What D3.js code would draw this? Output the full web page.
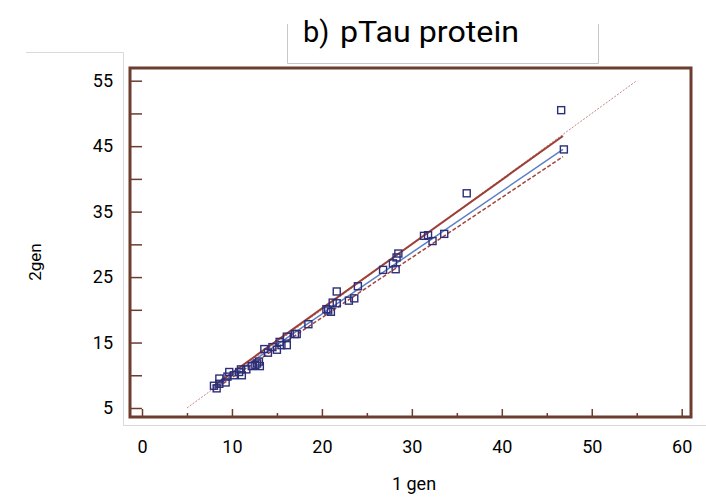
<!DOCTYPE html>
<html>
<head>
<meta charset="utf-8">
<script src="https://cdn.jsdelivr.net/npm/d3@7"></script>
<style>
  body { margin: 0; background: #fff; }
  svg { display: block; font-family: Roboto, "Liberation Sans", sans-serif; }
</style>
</head>
<body>
<svg id="chart" width="706" height="499"></svg>
<script>
"use strict";

// measured samples: 1 gen (x) vs 2gen (y)
const gen1 = [8.0, 8.3, 8.6, 8.6, 9.3, 9.5, 9.7, 10.2, 10.8, 11.1, 11.0, 11.6, 12.2, 12.6,
  12.8, 13.0, 13.1, 13.6, 14.0, 14.5, 15.0, 15.3, 15.5, 16.1, 16.1, 17.0, 17.2, 18.5,
  20.5, 20.7, 21.0, 21.2, 21.65, 21.65, 23.0, 23.6, 24.0, 26.8, 27.9, 28.2, 28.3, 28.5,
  31.35, 31.8, 32.3, 33.6, 36.1, 46.6, 46.9];
const gen2 = [8.4, 8.0, 9.5, 8.7, 8.9, 9.8, 10.5, 10.0, 10.5, 10.0, 10.9, 10.9, 11.4, 11.6,
  11.8, 12.1, 11.4, 14.0, 13.45, 14.3, 13.9, 15.1, 14.6, 15.9, 14.6, 16.3, 16.3, 17.8,
  20.1, 19.9, 19.7, 21.1, 22.8, 21.0, 21.4, 21.75, 23.6, 26.1, 27.1, 26.2, 28.0, 28.6,
  31.3, 31.4, 30.5, 31.6, 37.8, 50.5, 44.5];

// line end points
const identityLine = [[5, 5], [55, 55]];
const fitLine = [[7.9, 8.0], [46.8, 44.5]];
const upperLine = [[7.9, 8.3], [46.8, 46.55]];
const lowerLine = [[7.9, 7.7], [46.8, 43.4]];

const xTicks = [0, 5, 10, 15, 20, 25, 30, 35, 40, 45, 50, 55, 60];
const xLabels = [0, 10, 20, 30, 40, 50, 60];
const yTicks = [5, 10, 15, 20, 25, 30, 35, 40, 45, 50, 55];
const yLabels = [5, 15, 25, 35, 45, 55];

const titleTag = "b)";
const title = "pTau protein";
const xTitle = "1 gen";
const yTitle = "2gen";

const frame = {left: 130, right: 691, top: 68, bottom: 417};
const brown = "#6d3d2f";

const svg = d3.select("#chart");

const x = d3.scaleLinear().domain([0, 60]).range([142, 681.7]);
const y = d3.scaleLinear().domain([5, 55]).range([408, 80.7]);

// light grey panel edges
const grey = "#d9d9d9";
svg.append("path")
  .attr("d", `M26,52.5H123.5V425.5H706`)
  .attr("fill", "none")
  .attr("stroke", grey)
  .attr("stroke-width", 1);

// title box (open at the top)
svg.append("path")
  .attr("d", `M287.5,24V63.5H598.5V24`)
  .attr("fill", "none")
  .attr("stroke", "#c8c8c8")
  .attr("stroke-width", 1);
svg.append("text")
  .attr("x", 303)
  .attr("y", 42)
  .attr("font-size", 29)
  .attr("fill", "#000")
  .text(titleTag);
svg.append("text")
  .attr("x", 340)
  .attr("y", 42)
  .attr("font-size", 29)
  .attr("textLength", 179)
  .attr("lengthAdjust", "spacingAndGlyphs")
  .attr("fill", "#000")
  .text(title);

// axes
const yAxis = d3.axisLeft(y)
  .tickValues(yTicks)
  .tickSize(-12)
  .tickPadding(17)
  .tickFormat(d => yLabels.includes(d) ? d : "");
const gy = svg.append("g")
  .attr("transform", `translate(${frame.left},0)`)
  .call(yAxis);

const xAxis = d3.axisBottom(x)
  .tickValues(xTicks)
  .tickPadding(17)
  .tickFormat(d => xLabels.includes(d) ? d : "");
const gx = svg.append("g")
  .attr("transform", `translate(0,${frame.bottom})`)
  .call(xAxis);
gx.selectAll(".tick line")
  .attr("y2", d => xLabels.includes(d) ? -8 : -4);

for (const g of [gx, gy]) {
  g.select(".domain").remove();
  g.selectAll(".tick line").attr("stroke", brown).attr("stroke-width", 1.5);
  g.selectAll(".tick text")
    .attr("font-size", 18)
    .attr("fill", "#000")
    .attr("font-family", "Roboto, sans-serif");
}

// frame
svg.append("rect")
  .attr("x", frame.left)
  .attr("y", frame.top)
  .attr("width", frame.right - frame.left)
  .attr("height", frame.bottom - frame.top)
  .attr("fill", "none")
  .attr("stroke", brown)
  .attr("stroke-width", 3);

// axis titles
svg.append("text")
  .attr("x", 414)
  .attr("y", 490)
  .attr("text-anchor", "middle")
  .attr("font-size", 18)
  .attr("fill", "#000")
  .text(xTitle);
svg.append("text")
  .attr("transform", "translate(41,262) rotate(-90)")
  .attr("text-anchor", "middle")
  .attr("font-size", 17)
  .attr("fill", "#000")
  .text(yTitle);

// lines
const line = d3.line().x(d => x(d[0])).y(d => y(d[1]));
svg.append("path").datum(identityLine)
  .attr("d", line).attr("fill", "none")
  .attr("stroke", "#c98484").attr("stroke-width", 1)
  .attr("stroke-dasharray", "2,1.5");
svg.append("path").datum(upperLine)
  .attr("d", line).attr("fill", "none")
  .attr("stroke", "#9c3f37").attr("stroke-width", 2);
svg.append("path").datum(lowerLine)
  .attr("d", line).attr("fill", "none")
  .attr("stroke", "#a3433b").attr("stroke-width", 1.5)
  .attr("stroke-dasharray", "4,2");
svg.append("path").datum(fitLine)
  .attr("d", line).attr("fill", "none")
  .attr("stroke", "#5a7fc4").attr("stroke-width", 1.5);

// points
const pts = gen1.map((v, i) => [v, gen2[i]]);
const s = 7;
svg.append("g").selectAll("rect")
  .data(pts)
  .join("rect")
  .attr("x", d => x(d[0]) - s / 2)
  .attr("y", d => y(d[1]) - s / 2)
  .attr("width", s)
  .attr("height", s)
  .attr("fill", "none")
  .attr("stroke", "#2c2f78")
  .attr("stroke-width", 1.4);
</script>
</body>
</html>
